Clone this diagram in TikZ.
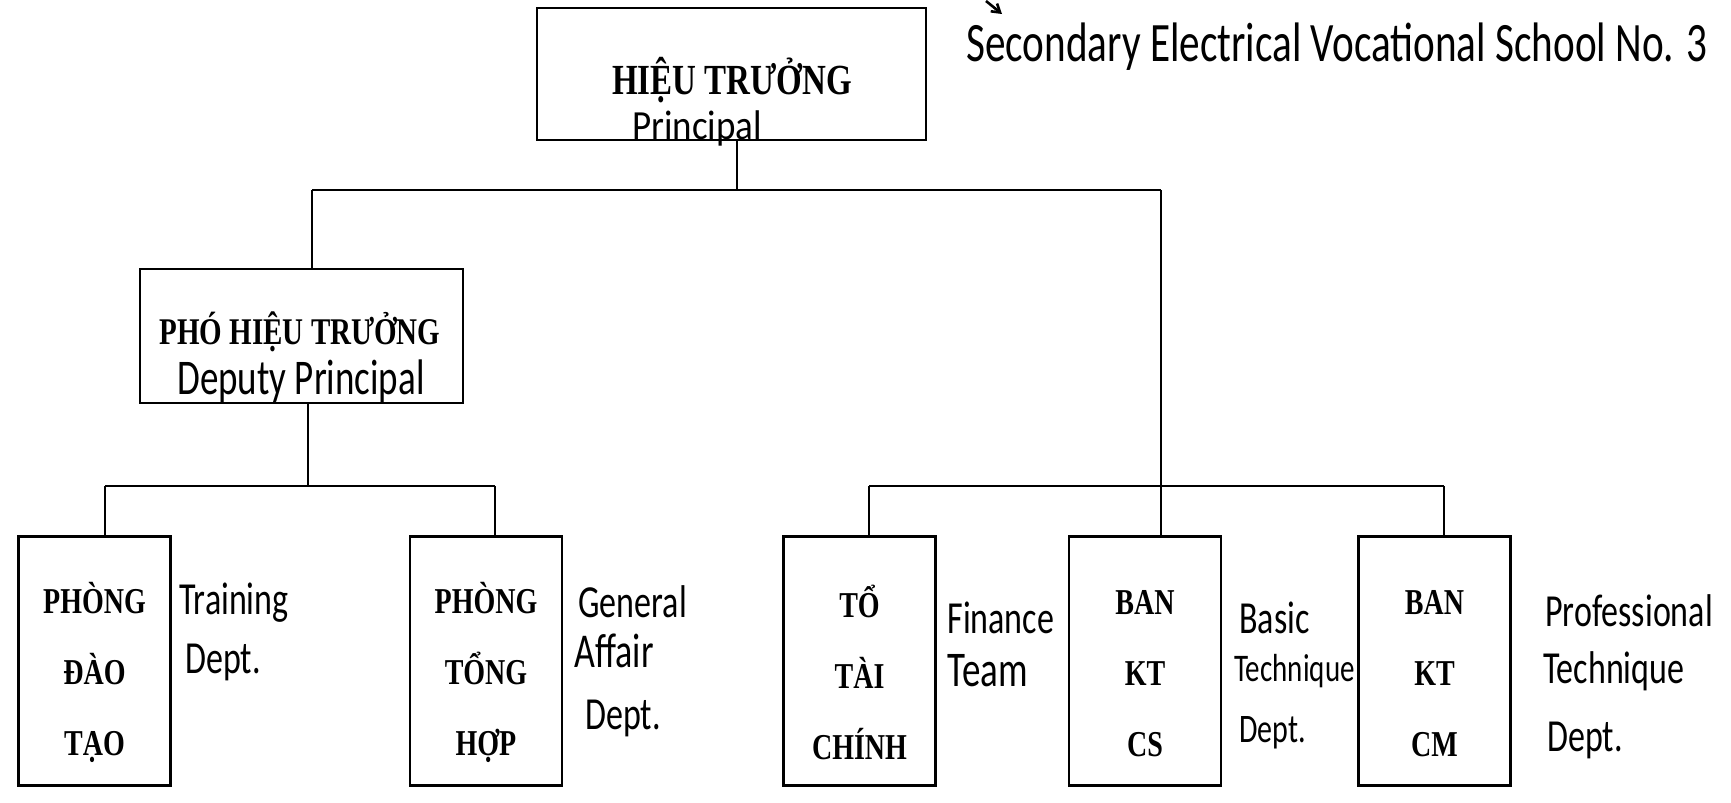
\documentclass[tikz,border=0pt]{standalone}
\usepackage{fontspec}
\setmainfont{Liberation Serif}
\newfontfamily\hand{Carlito}
\usetikzlibrary{arrows.meta}
\newcommand\tallb[1]{\scalebox{1}[1.3]{#1}}
\newcommand\tallh[1]{\scalebox{1}[1.35]{#1}}
\tikzset{
  box/.style={draw, line width=1.4pt, inner sep=0pt},
  conn/.style={line width=1.1pt},
  title/.style={font=\bfseries\fontsize{16.5}{20}\selectfont, inner sep=0pt},
  deptbox/.style={box, minimum width=76pt, minimum height=124.5pt},
  depttext/.style={align=center, inner sep=0pt, font=\bfseries\fontsize{14}{35.5}\selectfont},
  hw/.style={font=\hand\fontsize{17}{20}\selectfont, inner sep=0pt, anchor=west},
}
\begin{document}
\begin{tikzpicture}[x=0.5pt,y=-0.5pt]
\useasboundingbox (0,0) rectangle (1731,803);
% boxes
\node[box, minimum width=194.5pt, minimum height=66pt] (top) at (731.5,74) {};
\node[title] (toptxt) at (732,80) {\tallb{HIỆU TRƯỞNG}};
\node[hw, anchor=center, font=\hand\fontsize{18.5}{20}\selectfont] (topen) at (697,128) {\scalebox{1}[1.12]{Principal}};
\node[box, minimum width=161.5pt, minimum height=67pt] (dep) at (301.5,336) {};
\node[title, font=\bfseries\fontsize{14.5}{18}\selectfont] (deptxt) at (300,332) {\tallb{PHÓ HIỆU TRƯỞNG}};
\node[hw, anchor=center, font=\hand\fontsize{18.5}{20}\selectfont] (depen) at (301,381) {\tallh{Deputy Principal}};
\node[deptbox] (d1) at (94.5,661) {};
\node[deptbox] (d2) at (486,661) {};
\node[deptbox] (d3) at (859.5,661) {};
\node[deptbox] (d4) at (1145,661) {};
\node[deptbox] (d5) at (1434.5,661) {};
\node[depttext] (t1) at (94.5,672) {\tallb{PHÒNG}\\\tallb{ĐÀO}\\\tallb{TẠO}};
\node[depttext] (t2) at (486,672) {\tallb{PHÒNG}\\\tallb{TỔNG}\\\tallb{HỢP}};
\node[depttext] (t3) at (859.5,672) {\tallb{TỔ}\\\tallb{TÀI}\\\tallb{CHÍNH}};
\node[depttext] (t4) at (1145,674) {\tallb{BAN}\\\tallb{KT}\\\tallb{CS}};
\node[depttext] (t5) at (1434.5,674) {\tallb{BAN}\\\tallb{KT}\\\tallb{CM}};
% junction coordinates
\coordinate (jt) at (737,190);
\coordinate (jl) at (312,190);
\coordinate (jr) at (1161,190);
\coordinate (jd) at (308,486);
\coordinate (b1) at (105,486);
\coordinate (b2) at (495,486);
\coordinate (b3) at (869,486);
\coordinate (b4) at (1161,486);
\coordinate (b5) at (1444,486);
% connectors
\draw[conn] (top.south -| jt) -- (jt);
\draw[conn] (jl) -- (jr);
\draw[conn] (jl) -- (jl |- dep.north);
\draw[conn] (jr) -- (b4);
\draw[conn] (dep.south -| jd) -- (jd);
\draw[conn] (b1) -- (b2);
\draw[conn] (b3) -- (b5);
\draw[conn] (b1) -- (b1 |- d1.north);
\draw[conn] (b2) -- (b2 |- d2.north);
\draw[conn] (b3) -- (b3 |- d3.north);
\draw[conn] (b4) -- (b4 |- d4.north);
\draw[conn] (b5) -- (b5 |- d5.north);
% handwritten annotations
\coordinate (arA) at (986,1);
\coordinate (arB) at (1002,14);
\draw[line width=1.3pt, -{Straight Barb[length=4pt,width=5pt]}] (arA) -- (arB);
\node[hw, font=\hand\fontsize{20.6}{22}\selectfont] (school) at (966,47) {\tallh{Secondary Electrical Vocational School No. 3}};
\node[hw] (l1a) at (179,603) {\tallh{Training}};
\node[hw] (l1b) at (185,662) {\tallh{Dept.}};
\node[hw] (l2a) at (578,602) {\tallh{General}};
\node[hw, font=\hand\fontsize{18}{20}\selectfont] (l2b) at (574,651) {\tallh{Affair}};
\node[hw] (l2c) at (585,718) {\tallh{Dept.}};
\node[hw] (l3a) at (947,618) {\tallh{Finance}};
\node[hw, font=\hand\fontsize{18.5}{20}\selectfont] (l3b) at (947,671) {\tallh{Team}};
\node[hw] (l4a) at (1239,618) {\tallh{Basic}};
\node[hw, font=\hand\fontsize{14.5}{18}\selectfont] (l4b) at (1234,671) {\tallh{Technique}};
\node[hw, font=\hand\fontsize{15}{18}\selectfont] (l4c) at (1239,733) {\tallh{Dept.}};
\node[hw] (l5a) at (1545,611) {\tallh{Professional}};
\node[hw] (l5b) at (1543,671) {\tallh{Technique}};
\node[hw] (l5c) at (1547,740) {\tallh{Dept.}};
\end{tikzpicture}
\end{document}
